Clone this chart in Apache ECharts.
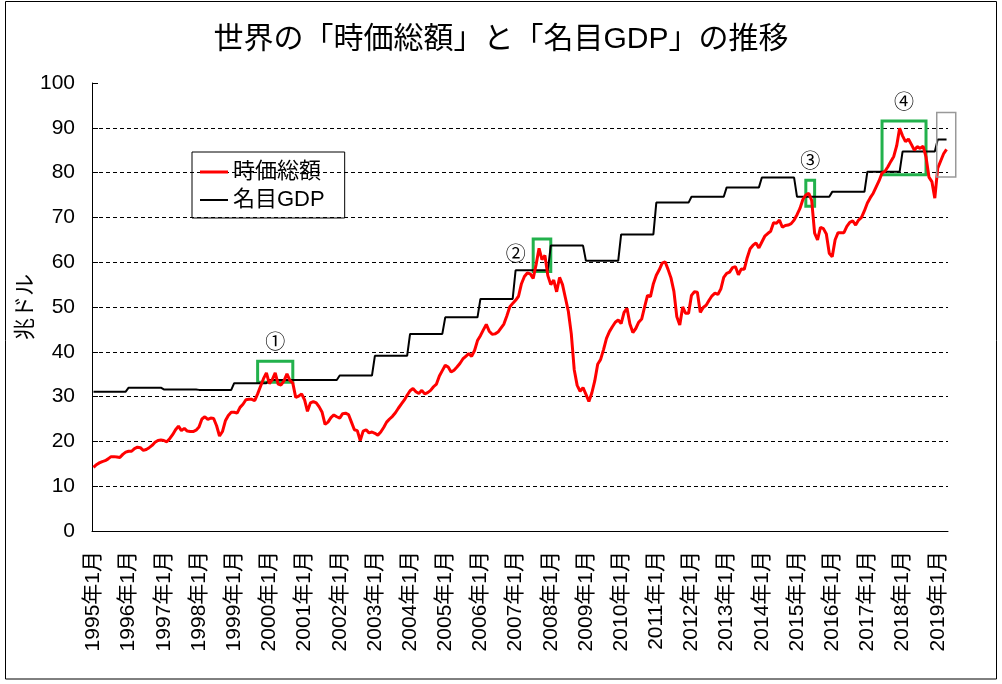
<!DOCTYPE html>
<html>
<head>
<meta charset="utf-8">
<title>世界の「時価総額」と「名目GDP」の推移</title>
<script src="https://cdn.jsdelivr.net/npm/echarts@6/dist/echarts.min.js"></script>
<style>
    html, body { margin: 0; padding: 0; background: #fff; }
    #chart { width: 1002px; height: 684px; }
</style>
</head>
<body>
<div id="chart"></div>
<script>
// 年（1995〜2019）
var years = [1995, 1996, 1997, 1998, 1999, 2000, 2001, 2002, 2003, 2004, 2005, 2006, 2007,
    2008, 2009, 2010, 2011, 2012, 2013, 2014, 2015, 2016, 2017, 2018, 2019];
var lastMonth = 4; // 2019年4月まで

// 時価総額（兆ドル, 月次）
var mktCap = [
    14.2, 14.8, 15.2, 15.5, 15.7, 16.1, 16.6, 16.6, 16.5, 16.4, 17.1, 17.6, // 1995
    17.8, 17.8, 18.4, 18.7, 18.6, 18.0, 18.2, 18.6, 19.1, 19.8, 20.2, 20.3, // 1996
    20.2, 19.9, 20.6, 21.5, 22.6, 23.4, 22.4, 22.9, 22.3, 22.2, 22.2, 22.5, // 1997
    23.2, 25.0, 25.5, 24.9, 25.2, 25.1, 23.5, 21.2, 22.2, 24.6, 25.8, 26.5, // 1998
    26.5, 26.3, 27.6, 28.3, 29.3, 29.4, 29.4, 29.1, 30.6, 32.3, 34.0, 35.3, // 1999
    32.9, 33.8, 35.3, 32.8, 32.6, 33.5, 35.1, 33.6, 33.0, 29.8, 30.1, 30.6, // 2000
    29.3, 26.7, 28.6, 28.9, 28.6, 27.7, 26.5, 23.8, 24.3, 25.3, 25.9, 25.5, // 2001
    25.2, 26.2, 26.3, 26.0, 24.3, 22.6, 22.4, 20.2, 22.3, 22.6, 21.9, 22.1, // 2002
    21.8, 21.4, 22.1, 23.1, 24.3, 25.0, 25.6, 26.4, 27.4, 28.3, 29.2, 30.3, // 2003
    31.3, 31.8, 31.1, 30.7, 31.4, 30.6, 30.9, 31.4, 32.2, 32.8, 34.6, 35.8, // 2004
    37.0, 36.6, 35.5, 35.9, 36.6, 37.4, 38.4, 39.0, 39.6, 39.0, 40.3, 42.5, // 2005
    43.6, 44.9, 46.1, 44.6, 43.9, 44.0, 44.4, 45.3, 46.2, 48.0, 50.0, 50.8, // 2006
    51.5, 52.4, 55.2, 56.8, 57.6, 57.4, 56.4, 59.5, 63.1, 60.6, 61.5, 57.0, // 2007
    55.0, 56.0, 53.4, 56.6, 55.0, 52.0, 49.0, 44.0, 36.0, 32.5, 31.2, 32.0, // 2008
    30.5, 28.9, 30.8, 33.5, 37.2, 38.3, 40.5, 43.0, 44.5, 45.6, 46.6, 47.1, // 2009
    46.3, 48.8, 49.7, 46.2, 44.3, 45.2, 46.6, 47.3, 50.0, 52.6, 52.3, 55.2, // 2010
    57.1, 58.3, 59.8, 60.1, 58.4, 56.5, 53.5, 47.8, 46.0, 50.0, 48.6, 48.6, // 2011
    52.6, 53.4, 53.3, 48.8, 49.9, 50.4, 51.5, 52.5, 53.1, 52.8, 54.0, 56.6, // 2012
    57.5, 57.8, 58.8, 59.0, 57.2, 58.5, 58.4, 61.0, 63.0, 63.8, 64.3, 63.2, // 2013
    64.5, 65.8, 66.4, 66.9, 68.8, 68.7, 69.4, 67.8, 68.2, 68.3, 68.6, 69.4, // 2014
    70.6, 72.0, 74.0, 75.0, 75.4, 73.8, 66.5, 65.0, 67.8, 67.5, 66.3, 62.0, // 2015
    61.2, 65.0, 66.6, 66.6, 66.6, 68.0, 68.9, 69.2, 68.3, 69.4, 70.0, 71.5, // 2016
    73.2, 74.4, 75.4, 76.8, 78.2, 79.9, 80.3, 81.3, 82.5, 83.6, 86.0, 89.9, // 2017
    88.2, 86.9, 87.5, 86.3, 85.0, 85.8, 85.4, 85.9, 83.5, 79.0, 78.0, 74.3, // 2018
    81.0, 82.6, 84.2, 85.2                                                  // 2019
];

// 名目GDP（兆ドル, 年次）
var gdpByYear = [31.1, 32.0, 31.6, 31.5, 33.0, 33.7, 33.7, 34.7, 39.1, 44.0, 47.7, 51.8, 58.2,
    63.7, 60.3, 66.2, 73.3, 74.6, 76.7, 78.9, 74.6, 75.7, 80.2, 84.7, 87.4];

// 注目ポイント（枠）
var boxNames = ['①', '②', '③', '④'];
var boxFrom = ['1999年9月', '2007年7月', '2015年4月', '2017年6月'];
var boxTo = ['2000年9月', '2008年1月', '2015年7月', '2018年9月'];
var boxTop = [37.9, 65.2, 78.3, 91.5];
var boxBottom = [33.2, 57.9, 72.5, 79.5];
var boxLabelPos = ['top', 'left', 'top', 'top'];

// 右端のグレー枠
var grayFrom = '2019年1月';
var grayTop = 93.4;
var grayBottom = 79.0;

// 月のカテゴリとGDPの月次テーブル
var months = [];
var gdp = [];
years.forEach(function (y, k) {
    var n = (k === years.length - 1) ? lastMonth : 12;
    for (var m = 1; m <= n; m++) {
        months.push(y + '年' + m + '月');
        gdp.push(gdpByYear[k]);
    }
});

var font = '"Liberation Sans", "Noto Sans CJK JP", sans-serif';

var areaData = boxNames.map(function (name, k) {
    return [{
        name: name,
        xAxis: boxFrom[k],
        yAxis: boxTop[k],
        label: {position: boxLabelPos[k]}
    }, {
        xAxis: boxTo[k],
        yAxis: boxBottom[k]
    }];
});

var myChart = echarts.init(document.getElementById('chart'));

var option = {
    animation: false,
    textStyle: {fontFamily: font, color: '#000'},
    title: {
        text: '世界の「時価総額」と「名目GDP」の推移',
        left: 'center',
        top: 20,
        textStyle: {
            fontFamily: font,
            fontSize: 30,
            fontWeight: 'normal',
            color: '#000'
        }
    },
    legend: {
        orient: 'vertical',
        left: 192,
        top: 152,
        padding: [9, 20, 7, 8],
        itemGap: 6,
        itemWidth: 28,
        itemHeight: 3,
        borderColor: '#000',
        borderWidth: 1,
        data: [
            {name: '時価総額', icon: 'rect'},
            {name: '名目GDP', icon: 'path://M0,0.5H28V2.5H0Z'}
        ],
        textStyle: {fontFamily: font, fontSize: 22, color: '#000', lineHeight: 22}
    },
    grid: {
        left: 92,
        right: 54,
        top: 83,
        bottom: 153,
        containLabel: false
    },
    xAxis: {
        type: 'category',
        boundaryGap: true,
        data: months,
        axisLine: {lineStyle: {color: '#000', width: 1}},
        axisTick: {
            inside: true,
            length: 8,
            interval: 11,
            lineStyle: {color: '#000'}
        },
        axisLabel: {
            interval: 11,
            rotate: 90,
            margin: 20,
            fontSize: 21,
            fontFamily: font,
            color: '#000'
        },
        splitLine: {show: false}
    },
    yAxis: {
        type: 'value',
        min: 0,
        max: 100,
        interval: 10,
        name: '兆ドル',
        nameLocation: 'middle',
        nameRotate: 90,
        nameGap: 55,
        nameMoveOverlap: false,
        nameTextStyle: {fontFamily: font, fontSize: 22, color: '#000'},
        axisLine: {show: true, lineStyle: {color: '#000', width: 1}},
        axisTick: {show: true, inside: true, length: 6, lineStyle: {color: '#000'}},
        axisLabel: {
            margin: 17,
            fontSize: 21,
            fontFamily: font,
            color: '#000'
        },
        splitLine: {
            show: true,
            showMaxLine: false,
            lineStyle: {color: '#000', type: [4, 3], width: 1}
        }
    },
    series: [{
        name: '名目GDP',
        type: 'line',
        data: gdp,
        symbol: 'none',
        lineStyle: {width: 2, color: '#000'},
        itemStyle: {color: '#000'},
        z: 2
    }, {
        name: '時価総額',
        type: 'line',
        data: mktCap,
        symbol: 'none',
        lineStyle: {width: 3, color: '#ff0000'},
        itemStyle: {color: '#ff0000'},
        z: 3,
        markArea: {
            silent: true,
            itemStyle: {
                color: 'rgba(0,0,0,0)',
                borderColor: '#22b14c',
                borderWidth: 3
            },
            label: {
                show: true,
                distance: 6,
                fontFamily: font,
                fontSize: 20,
                color: '#000'
            },
            data: areaData
        }
    }]
};

myChart.setOption(option);

// グレー枠と外枠
var p1 = myChart.convertToPixel({gridIndex: 0}, [grayFrom, grayTop]);
var p2 = myChart.convertToPixel({gridIndex: 0}, [grayFrom, grayBottom]);
myChart.setOption({
    graphic: [{
        type: 'rect',
        shape: {x: p1[0] - 1, y: p1[1], width: 19, height: p2[1] - p1[1]},
        style: {fill: 'none', stroke: '#999', lineWidth: 1.5},
        z: 10
    }, {
        type: 'rect',
        shape: {x: 5.5, y: 1.5, width: 991, height: 677.5},
        style: {fill: 'none', stroke: '#000', lineWidth: 1},
        z: 10
    }]
});
</script>
</body>
</html>
